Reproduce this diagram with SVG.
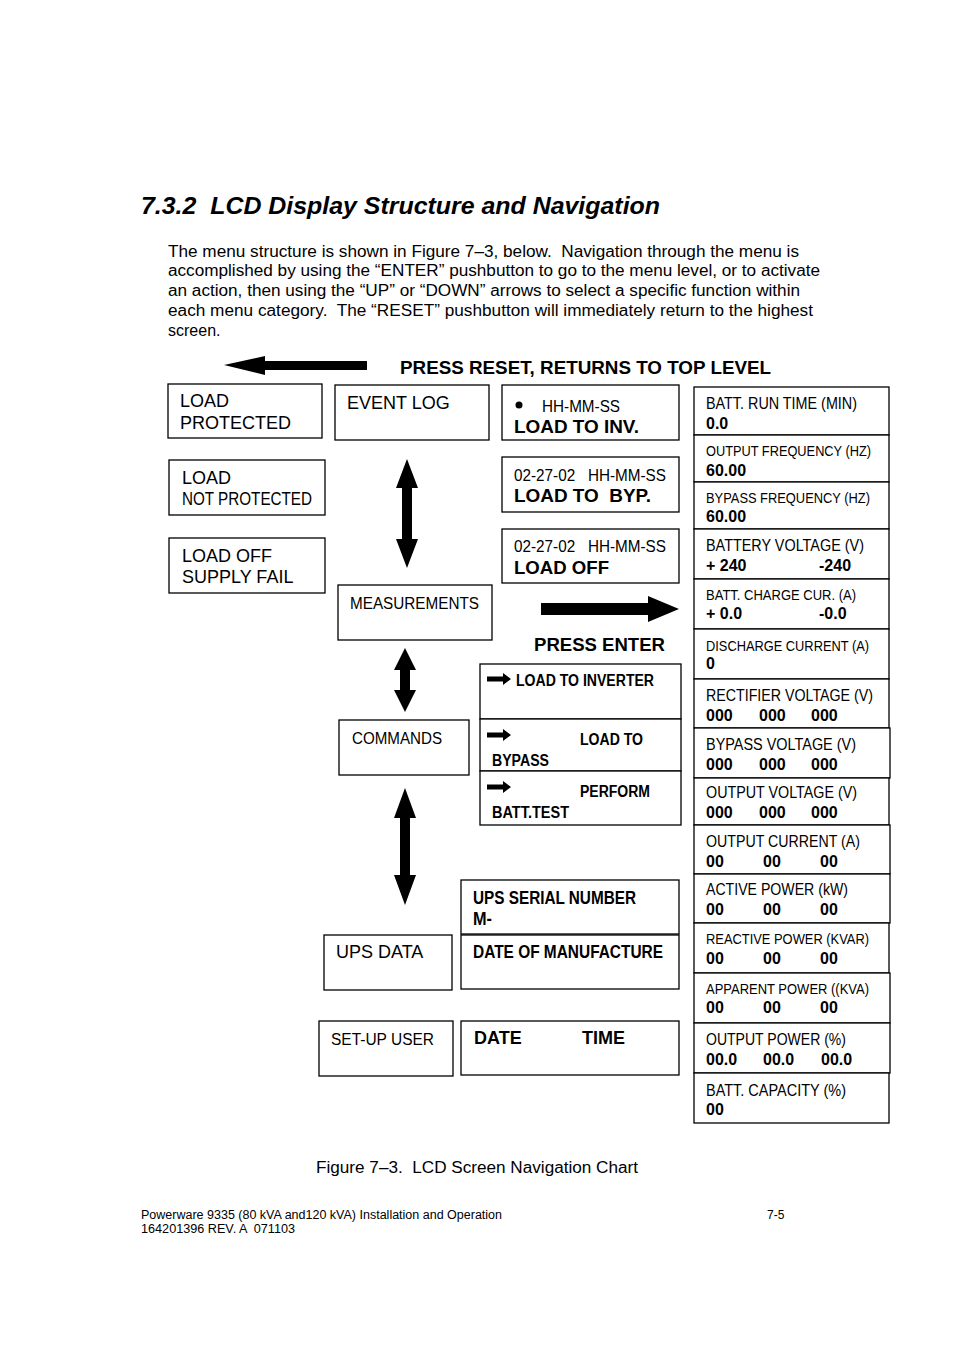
<svg xmlns="http://www.w3.org/2000/svg" width="954" height="1351" viewBox="0 0 954 1351" xml:space="preserve">
<style>
text{font-family:"Liberation Sans",Arial,sans-serif;fill:#000;white-space:pre}
.box{fill:#fff;stroke:#000;stroke-width:1.3}
.r18{font-size:18px}
.n16{font-size:16px}
.n15{font-size:15px}
.n14{font-size:14px}
.b16{font-size:16px;font-weight:bold}
.b18{font-size:18px;font-weight:bold}
.p{font-size:16px}
.arr{fill:#000}
</style>
<rect width="954" height="1351" fill="#fff"/>
<text x="141" y="214" font-size="24" font-weight="bold" font-style="italic" textLength="519" lengthAdjust="spacingAndGlyphs">7.3.2  LCD Display Structure and Navigation</text>
<g class="p">
<text x="168" y="257" class="p" textLength="631" lengthAdjust="spacingAndGlyphs">The menu structure is shown in Figure 7–3, below.  Navigation through the menu is</text>
<text x="168" y="276" class="p" textLength="652" lengthAdjust="spacingAndGlyphs">accomplished by using the “ENTER” pushbutton to go to the menu level, or to activate</text>
<text x="168" y="296" class="p" textLength="632" lengthAdjust="spacingAndGlyphs">an action, then using the “UP” or “DOWN” arrows to select a specific function within</text>
<text x="168" y="316" class="p" textLength="645" lengthAdjust="spacingAndGlyphs">each menu category.  The “RESET” pushbutton will immediately return to the highest</text>
<text x="168" y="336" class="p">screen.</text>
</g>

<text x="400" y="374" class="b18" textLength="371" lengthAdjust="spacingAndGlyphs">PRESS RESET, RETURNS TO TOP LEVEL</text>
<text x="534" y="651" class="b18" textLength="131" lengthAdjust="spacingAndGlyphs">PRESS ENTER</text>

<g id="load-protected"><rect class="box" x="168" y="384" width="154" height="54"/>
<text x="180" y="407" class="r18">LOAD</text><text x="180" y="429" class="r18">PROTECTED</text></g>
<g id="load-not-protected"><rect class="box" x="169" y="460" width="156" height="55"/>
<text x="182" y="484" class="r18">LOAD</text><text x="182" y="505" class="r18" textLength="130" lengthAdjust="spacingAndGlyphs">NOT PROTECTED</text></g>
<g id="load-off-supply-fail"><rect class="box" x="169" y="538" width="156" height="55"/>
<text x="182" y="562" class="r18">LOAD OFF</text><text x="182" y="583" class="r18">SUPPLY FAIL</text></g>

<g id="event-log"><rect class="box" x="335" y="385" width="154" height="55"/>
<text x="347" y="409" class="r18">EVENT LOG</text></g>
<g id="measurements"><rect class="box" x="338" y="585" width="154" height="55"/>
<text x="350" y="609" class="n16" textLength="129" lengthAdjust="spacingAndGlyphs">MEASUREMENTS</text></g>
<g id="commands"><rect class="box" x="339" y="720" width="130" height="55"/>
<text x="352" y="744" class="n16" textLength="90" lengthAdjust="spacingAndGlyphs">COMMANDS</text></g>
<g id="ups-data"><rect class="box" x="324" y="935" width="128" height="55"/>
<text x="336" y="958" class="r18">UPS DATA</text></g>
<g id="setup-user"><rect class="box" x="319" y="1021" width="134" height="55"/>
<text x="331" y="1045" class="n16" textLength="103" lengthAdjust="spacingAndGlyphs">SET-UP USER</text></g>

<g id="event-inv"><rect class="box" x="502" y="385" width="177" height="55"/>
<circle cx="519" cy="405" r="3.5"/>
<text x="542" y="412" class="n16" textLength="78" lengthAdjust="spacingAndGlyphs">HH-MM-SS</text>
<text x="514" y="433" class="b18" textLength="125" lengthAdjust="spacingAndGlyphs">LOAD TO INV.</text></g>
<g id="event-byp"><rect class="box" x="502" y="457" width="177" height="55"/>
<text x="514" y="481" class="n16" textLength="152" lengthAdjust="spacingAndGlyphs">02-27-02   HH-MM-SS</text>
<text x="514" y="502" class="b18" textLength="137" lengthAdjust="spacingAndGlyphs">LOAD TO  BYP.</text></g>
<g id="event-off"><rect class="box" x="502" y="529" width="177" height="54"/>
<text x="514" y="552" class="n16" textLength="152" lengthAdjust="spacingAndGlyphs">02-27-02   HH-MM-SS</text>
<text x="514" y="574" class="b18" textLength="95" lengthAdjust="spacingAndGlyphs">LOAD OFF</text></g>

<g id="cmd-list">
<rect class="box" x="480" y="664" width="201" height="55"/>
<rect class="box" x="480" y="719" width="201" height="52"/>
<rect class="box" x="480" y="771" width="201" height="54"/>
<text x="516" y="686" class="b16" textLength="138" lengthAdjust="spacingAndGlyphs">LOAD TO INVERTER</text>
<text x="580" y="745" class="b16" textLength="63" lengthAdjust="spacingAndGlyphs">LOAD TO</text>
<text x="492" y="766" class="b16" textLength="57" lengthAdjust="spacingAndGlyphs">BYPASS</text>
<text x="580" y="797" class="b16" textLength="70" lengthAdjust="spacingAndGlyphs">PERFORM</text>
<text x="492" y="818" class="b16" textLength="77" lengthAdjust="spacingAndGlyphs">BATT.TEST</text>
</g>

<g id="ups-info">
<rect class="box" x="461" y="880" width="218" height="54"/>
<rect class="box" x="461" y="935" width="218" height="54"/>
<text x="473" y="904" class="b18" textLength="163" lengthAdjust="spacingAndGlyphs">UPS SERIAL NUMBER</text>
<text x="473" y="925" class="b18" textLength="19" lengthAdjust="spacingAndGlyphs">M-</text>
<text x="473" y="958" class="b18" textLength="190" lengthAdjust="spacingAndGlyphs">DATE OF MANUFACTURE</text>
</g>
<g id="date-time"><rect class="box" x="461" y="1021" width="218" height="54"/>
<text x="474" y="1044" class="b18">DATE</text><text x="582" y="1044" class="b18">TIME</text></g>

<g id="measure-list">
<rect class="box" x="694" y="387" width="195" height="48"/>
<rect class="box" x="694" y="435" width="195" height="47"/>
<rect class="box" x="694" y="482" width="195" height="47"/>
<rect class="box" x="694" y="529" width="195" height="50"/>
<rect class="box" x="694" y="579" width="195" height="50"/>
<rect class="box" x="694" y="629" width="195" height="50"/>
<rect class="box" x="694" y="679" width="195" height="49"/>
<rect class="box" x="694" y="728" width="196" height="50"/>
<rect class="box" x="694" y="778" width="195" height="47"/>
<rect class="box" x="694" y="825" width="196" height="49"/>
<rect class="box" x="694" y="874" width="196" height="49"/>
<rect class="box" x="694" y="923" width="195" height="50"/>
<rect class="box" x="694" y="973" width="196" height="50"/>
<rect class="box" x="694" y="1023" width="196" height="50"/>
<rect class="box" x="694" y="1073" width="195" height="50"/>

<text x="706" y="409" class="n16" textLength="151" lengthAdjust="spacingAndGlyphs">BATT. RUN TIME (MIN)</text>
<text x="706" y="429" class="b16">0.0</text>
<text x="706" y="456" class="n14" textLength="165" lengthAdjust="spacingAndGlyphs">OUTPUT FREQUENCY (HZ)</text>
<text x="706" y="476" class="b16">60.00</text>
<text x="706" y="503" class="n14" textLength="164" lengthAdjust="spacingAndGlyphs">BYPASS FREQUENCY (HZ)</text>
<text x="706" y="522" class="b16">60.00</text>
<text x="706" y="551" class="n16" textLength="158" lengthAdjust="spacingAndGlyphs">BATTERY VOLTAGE (V)</text>
<text x="706" y="571" class="b16">+ 240</text><text x="819" y="571" class="b16">-240</text>
<text x="706" y="600" class="n14" textLength="150" lengthAdjust="spacingAndGlyphs">BATT. CHARGE CUR. (A)</text>
<text x="706" y="619" class="b16">+ 0.0</text><text x="819" y="619" class="b16">-0.0</text>
<text x="706" y="651" class="n14" textLength="163" lengthAdjust="spacingAndGlyphs">DISCHARGE CURRENT (A)</text>
<text x="706" y="669" class="b16">0</text>
<text x="706" y="701" class="n16" textLength="167" lengthAdjust="spacingAndGlyphs">RECTIFIER VOLTAGE (V)</text>
<text x="706" y="721" class="b16">000</text><text x="759" y="721" class="b16">000</text><text x="811" y="721" class="b16">000</text>
<text x="706" y="750" class="n16" textLength="150" lengthAdjust="spacingAndGlyphs">BYPASS VOLTAGE (V)</text>
<text x="706" y="770" class="b16">000</text><text x="759" y="770" class="b16">000</text><text x="811" y="770" class="b16">000</text>
<text x="706" y="798" class="n16" textLength="151" lengthAdjust="spacingAndGlyphs">OUTPUT VOLTAGE (V)</text>
<text x="706" y="818" class="b16">000</text><text x="759" y="818" class="b16">000</text><text x="811" y="818" class="b16">000</text>
<text x="706" y="847" class="n16" textLength="154" lengthAdjust="spacingAndGlyphs">OUTPUT CURRENT (A)</text>
<text x="706" y="867" class="b16">00</text><text x="763" y="867" class="b16">00</text><text x="820" y="867" class="b16">00</text>
<text x="706" y="895" class="n16" textLength="142" lengthAdjust="spacingAndGlyphs">ACTIVE POWER (kW)</text>
<text x="706" y="915" class="b16">00</text><text x="763" y="915" class="b16">00</text><text x="820" y="915" class="b16">00</text>
<text x="706" y="944" class="n14" textLength="163" lengthAdjust="spacingAndGlyphs">REACTIVE POWER (KVAR)</text>
<text x="706" y="964" class="b16">00</text><text x="763" y="964" class="b16">00</text><text x="820" y="964" class="b16">00</text>
<text x="706" y="994" class="n14" textLength="163" lengthAdjust="spacingAndGlyphs">APPARENT POWER ((KVA)</text>
<text x="706" y="1013" class="b16">00</text><text x="763" y="1013" class="b16">00</text><text x="820" y="1013" class="b16">00</text>
<text x="706" y="1045" class="n16" textLength="140" lengthAdjust="spacingAndGlyphs">OUTPUT POWER (%)</text>
<text x="706" y="1065" class="b16">00.0</text><text x="763" y="1065" class="b16">00.0</text><text x="821" y="1065" class="b16">00.0</text>
<text x="706" y="1096" class="n16" textLength="140" lengthAdjust="spacingAndGlyphs">BATT. CAPACITY (%)</text>
<text x="706" y="1115" class="b16">00</text>
</g>

<g id="connectors">
<polygon class="arr" points="224,365 265,356 265,361 367,361 367,370 265,370 265,375"/>
<polygon class="arr" points="407,459 418,488 412,488 412,539 418,539 407,568 396,539 402,539 402,488 396,488"/>
<polygon class="arr" points="405,648 416,670 410,670 410,690 416,690 405,712 394,690 400,690 400,670 394,670"/>
<polygon class="arr" points="405,788 416,818 410,818 410,875 416,875 405,905 394,875 400,875 400,818 394,818"/>
<polygon class="arr" points="679,609 648,596 648,603 541,603 541,615 648,615 648,622"/>
<polygon class="arr" points="511,679 503,673 503,676.5 487,676.5 487,681.5 503,681.5 503,685"/>
<polygon class="arr" points="511,735 503,729 503,732.5 487,732.5 487,737.5 503,737.5 503,741"/>
<polygon class="arr" points="511,787 503,781 503,784.5 487,784.5 487,789.5 503,789.5 503,793"/>
</g>

<text x="316" y="1173" class="n16" textLength="322" lengthAdjust="spacingAndGlyphs">Figure 7–3.  LCD Screen Navigation Chart</text>
<text x="141" y="1219" font-size="12" textLength="361" lengthAdjust="spacingAndGlyphs">Powerware 9335 (80 kVA and120 kVA) Installation and Operation</text>
<text x="141" y="1233" font-size="12" textLength="154" lengthAdjust="spacingAndGlyphs">164201396 REV. A  071103</text>
<text x="767" y="1219" font-size="12">7-5</text>
</svg>
